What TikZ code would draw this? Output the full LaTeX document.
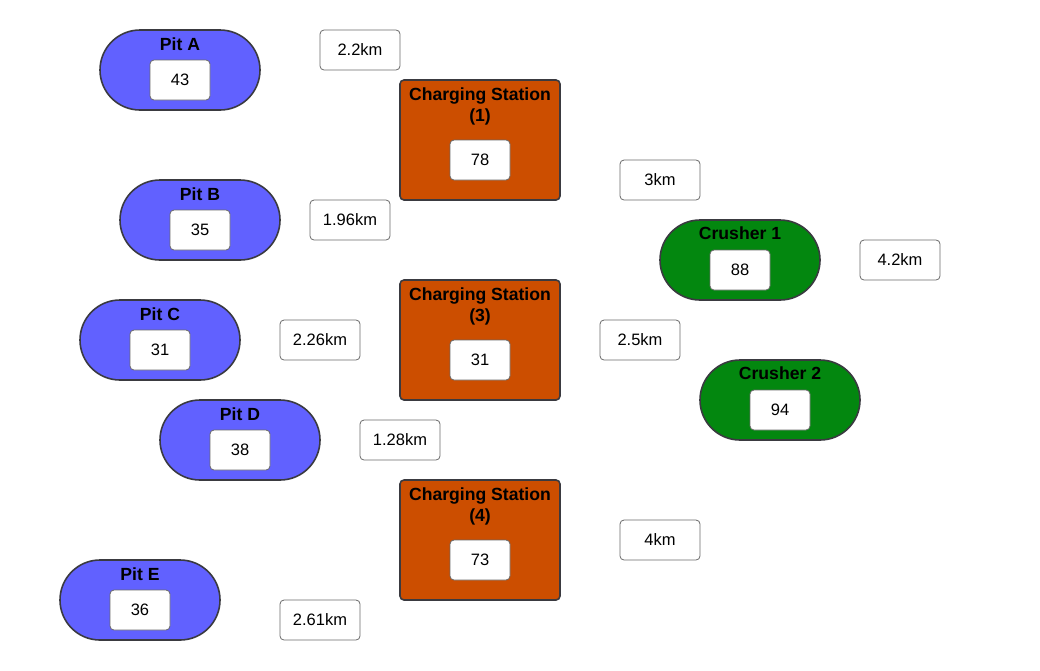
\documentclass[tikz,border=0pt]{standalone}
\usepackage{fontspec}
\setmainfont{Liberation Sans}
\definecolor{pitblue}{HTML}{6161FF}
\definecolor{stationorange}{HTML}{CC4E00}
\definecolor{crushergreen}{HTML}{03870F}
\definecolor{edgegray}{HTML}{3A3A40}
\definecolor{boxgray}{HTML}{6A6A6A}
\newcommand{\titlefont}{\fontsize{17.6}{21}\selectfont\bfseries}
\newcommand{\valfont}{\fontsize{16.5}{20}\selectfont}
\tikzset{
  stadium/.style={draw=edgegray, line width=1.6pt, rounded corners=40pt,
    minimum width=160pt, minimum height=80pt, inner sep=0pt},
  pit/.style={stadium, fill=pitblue},
  crusher/.style={stadium, fill=crushergreen},
  station/.style={draw=edgegray, line width=1.6pt, rounded corners=4pt,
    fill=stationorange, minimum width=160pt, minimum height=120pt, inner sep=0pt},
  valbox/.style={draw=boxgray, fill=white, line width=0.8pt, rounded corners=4pt,
    minimum width=60pt, minimum height=40pt, inner sep=0pt, font=\valfont},
  distbox/.style={valbox, minimum width=80pt},
  title/.style={font=\titlefont, align=center, inner sep=0pt}
}
\begin{document}
\begin{tikzpicture}[x=1pt,y=-1pt]
  \useasboundingbox (0,0) rectangle (1040,670);

  % pits
  \foreach \nm/\x/\y/\ttl/\val in {pitA/180/70/Pit A/43, pitB/200/220/Pit B/35,
      pitC/160/340/Pit C/31, pitD/240/440/Pit D/38, pitE/140/600/Pit E/36}{
    \node[pit] (\nm) at (\x,\y) {};
    \node[title] (\nm-title) at ([yshift=26pt]\nm.center) {\ttl};
    \node[valbox] (\nm-val) at ([yshift=-10pt]\nm.center) {\val};
  }

  % charging stations
  \foreach \nm/\y/\num/\val in {csA/140/1/78, csC/340/3/31, csD/540/4/73}{
    \node[station] (\nm) at (480,\y) {};
    \node[title] (\nm-title) at ([yshift=34pt]\nm.center) {Charging Station\\(\num)};
    \node[valbox] (\nm-val) at ([yshift=-20pt]\nm.center) {\val};
  }

  % crushers
  \foreach \nm/\x/\y/\ttl/\val in {crushA/740/260/Crusher 1/88, crushB/780/400/Crusher 2/94}{
    \node[crusher] (\nm) at (\x,\y) {};
    \node[title] (\nm-title) at ([yshift=27pt]\nm.center) {\ttl};
    \node[valbox] (\nm-val) at ([yshift=-10pt]\nm.center) {\val};
  }

  % distances
  \foreach \nm/\x/\y/\dist in {dA/360/50/2.2km, dB/350/220/1.96km, dC/320/340/2.26km,
      dD/400/440/1.28km, dE/320/620/2.61km, dF/660/180/3km, dG/640/340/2.5km,
      dH/660/540/4km, dI/900/260/4.2km}
    \node[distbox] (\nm) at (\x,\y) {\dist};
\end{tikzpicture}
\end{document}
